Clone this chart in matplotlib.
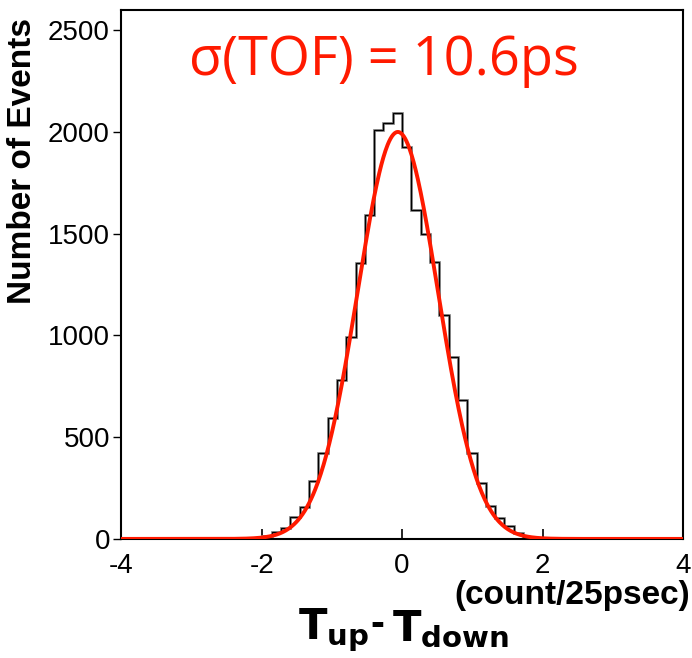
import numpy as np
import matplotlib
matplotlib.use("Agg")
import matplotlib.pyplot as plt

# ---- data ----
bin_width = 0.1325
bin_index = list(range(-17, 16))          # left edge = index * bin_width
counts = [2, 5, 12, 32, 55, 106, 155, 285, 421, 593, 781, 994, 1357, 1591,
          2012, 2042, 2094, 1927, 1616, 1497, 1360, 1100, 895, 683, 421, 275,
          162, 105, 64, 28, 10, 4, 1]
fit_amp = 2000.0
fit_mean = -0.06
fit_sigma = 0.573
x_ticks = [-4, -2, 0, 2, 4]
y_ticks = [0, 500, 1000, 1500, 2000, 2500]

fig = plt.figure(figsize=(6.92, 6.58), dpi=100)
ax = fig.add_axes([0.175, 0.181, 0.812, 0.804])

edges = np.array(bin_index + [bin_index[-1] + 1]) * bin_width
ax.stairs(counts, edges, color="#8a8a8a", lw=2.0, zorder=2)
ax.stairs(counts, edges, color="black", lw=0.9, zorder=3)

xf = np.linspace(-4, 4, 800)
yf = fit_amp * np.exp(-0.5 * ((xf - fit_mean) / fit_sigma) ** 2)
ax.plot(xf, yf, color="#ff1a00", lw=2.8, zorder=4)

ax.set_xlim(-4, 4)
ax.set_ylim(0, 2600)
ax.set_xticks(x_ticks)
ax.set_yticks(y_ticks)
ax.set_xticklabels([str(v) for v in x_ticks], family="Liberation Sans", fontsize=20)
ax.set_yticklabels([str(v) for v in y_ticks], family="Liberation Sans", fontsize=20)
ax.tick_params(axis="x", direction="in", length=7, width=1.2, pad=10)
ax.tick_params(axis="y", direction="out", length=6, width=1.0, pad=2)
for s in ax.spines.values():
    s.set_linewidth(1.5)

fig.text(0.033, 0.755, "Number of Events", rotation=90, ha="center", va="center",
         family="Liberation Sans", fontweight="bold", fontsize=24)
fig.text(0.997, 0.095, "(count/25psec)", ha="right", va="center",
         family="Liberation Sans", fontweight="bold", fontsize=24)
fig.text(0.533, 0.043, r"$\mathbf{T_{up}}$", ha="right", va="center",
         family="Liberation Sans", fontsize=30)
fig.text(0.535, 0.05, "-", ha="left", va="center",
         family="Liberation Sans", fontweight="bold", fontsize=30)
fig.text(0.567, 0.043, r"$\mathbf{T_{down}}$", ha="left", va="center",
         family="Liberation Sans", fontsize=30)
ax.text(0.12, 0.905, "σ(TOF) = 10.6ps", transform=ax.transAxes, ha="left", va="center",
        family="Open Sans", fontsize=39, color="#ff1a00")

fig.savefig("out.png", dpi=100)
